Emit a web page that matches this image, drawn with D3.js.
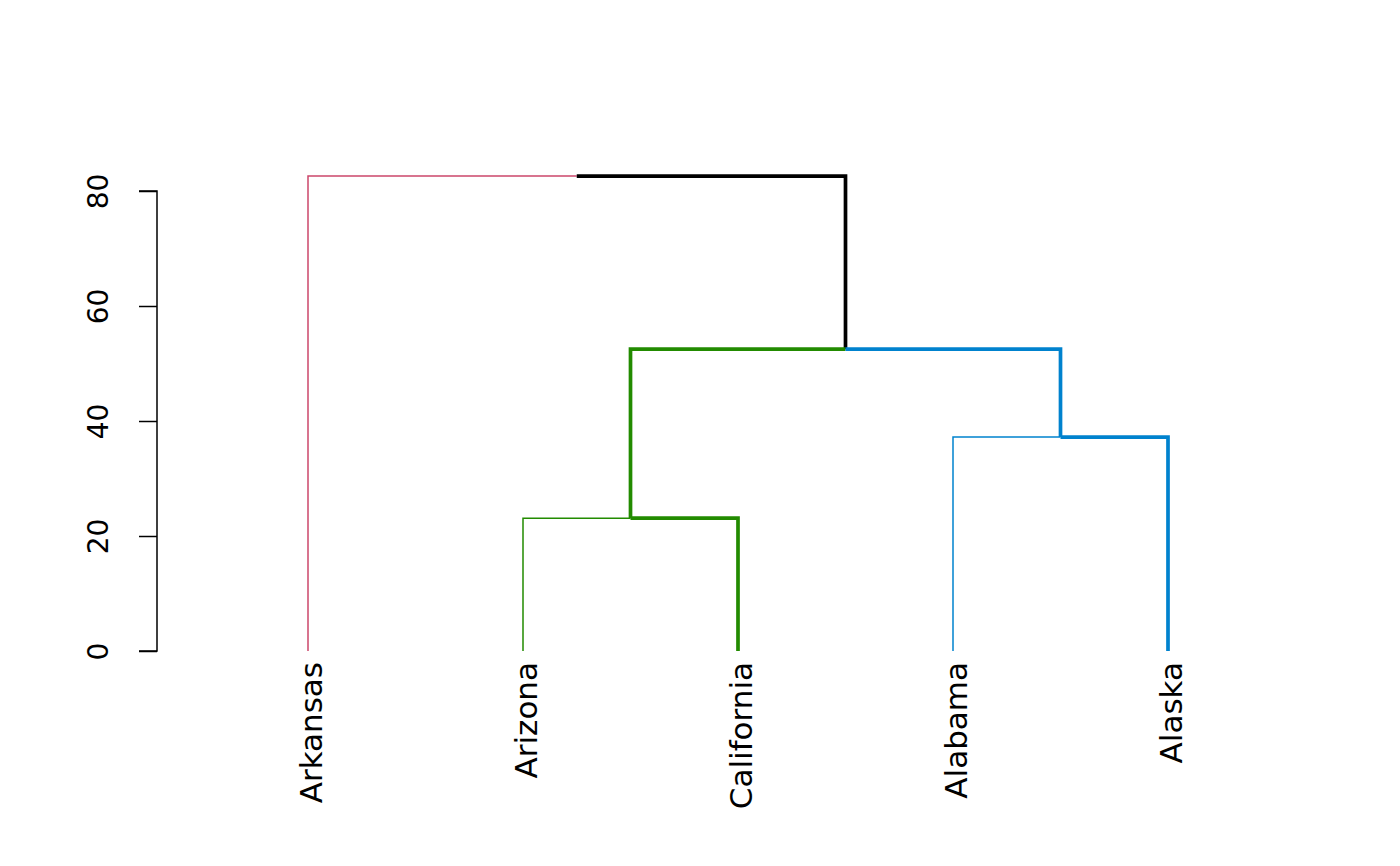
<!DOCTYPE html>
<html>
<head>
<meta charset="utf-8">
<script src="https://cdn.jsdelivr.net/npm/d3@7"></script>
<style>
  html, body { margin: 0; padding: 0; background: #fff; }
  svg { display: block; }
  text { font-family: "DejaVu Sans", sans-serif; fill: #000; }
</style>
</head>
<body>
<svg id="chart" width="1400" height="866"></svg>
<script>
// ---- data (hclust-style) ----
const leafLabels = ["Arkansas", "Arizona", "California", "Alabama", "Alaska"];
// merges: negative = leaf (1-based), positive = earlier merge (1-based)
const mergeLeft   = [-2, -4, 1, -1];
const mergeRight  = [-3, -5, 2, 3];
const mergeHeight = [23.1, 37.2, 52.5, 82.6];
// cluster (k = 3) of each leaf
const leafCluster = [1, 2, 2, 3, 3];
// nodes on highlighted (thick) path, by id
const highlighted = ["m3", "m1", "m2", "California", "Alaska"];
const yTicks = [0, 20, 40, 60, 80];

// ---- layout ----
const svg = d3.select("#chart");
const x = d3.scaleLinear().domain([1, leafLabels.length]).range([308, 1168]);
const y = d3.scaleLinear().domain([0, 80]).range([651, 191]);
const clusterColor = d3.scaleOrdinal().domain([1, 2, 3]).range(["#CC476B", "#228B00", "#0082CE"]);

// build tree
function build(ref) {
  if (ref < 0) {
    const i = -ref - 1;
    return { id: leafLabels[i], pos: i + 1, height: 0, cluster: leafCluster[i], leaf: true };
  }
  const k = ref - 1;
  const l = build(mergeLeft[k]), r = build(mergeRight[k]);
  const cl = l.cluster === r.cluster ? l.cluster : null;
  return { id: "m" + ref, pos: (l.pos + r.pos) / 2, height: mergeHeight[k], children: [l, r], cluster: cl };
}
const root = d3.hierarchy(build(mergeHeight.length));

const edges = root.links().map(l => ({
  px: x(l.source.data.pos), py: y(l.source.data.height),
  cx: x(l.target.data.pos), cy: y(l.target.data.height),
  color: l.target.data.cluster != null ? clusterColor(l.target.data.cluster) : "#000",
  thick: highlighted.includes(l.target.data.id)
}));
edges.sort((a, b) => a.thick - b.thick);

svg.append("g").selectAll("path").data(edges).join("path")
  .attr("d", e => `M${e.px},${e.py}H${e.cx}V${e.cy}`)
  .attr("fill", "none")
  .attr("stroke", e => e.color)
  .attr("stroke-width", e => e.thick ? 3.7 : 1.5)
  .attr("stroke-linecap", "butt")
  .attr("stroke-linejoin", "miter");

// leaf labels
svg.append("g").selectAll("text").data(root.leaves()).join("text")
  .attr("transform", d => `translate(${x(d.data.pos) + 14},662) rotate(-90)`)
  .attr("text-anchor", "end")
  .style("font-size", "31px")
  .text(d => d.data.id);

// y axis
const axis = d3.axisLeft(y).tickValues(yTicks).tickSize(18).tickPadding(0).tickFormat(d3.format("d"));
const ag = svg.append("g").attr("transform", "translate(157,0)").call(axis);
ag.select(".domain").attr("d", `M-18,${y(80)}H0V${y(0)}H-18`).attr("stroke", "#000").attr("stroke-width", 1.5);
ag.selectAll(".tick line").attr("stroke", "#000").attr("stroke-width", 1.5);
ag.selectAll(".tick text")
  .attr("x", null).attr("dy", null)
  .attr("transform", "translate(-49,0) rotate(-90)")
  .attr("text-anchor", "middle")
  .attr("fill", "#000")
  .style("font-size", "28px")
  .style("font-family", "DejaVu Sans, sans-serif");
</script>
</body>
</html>
